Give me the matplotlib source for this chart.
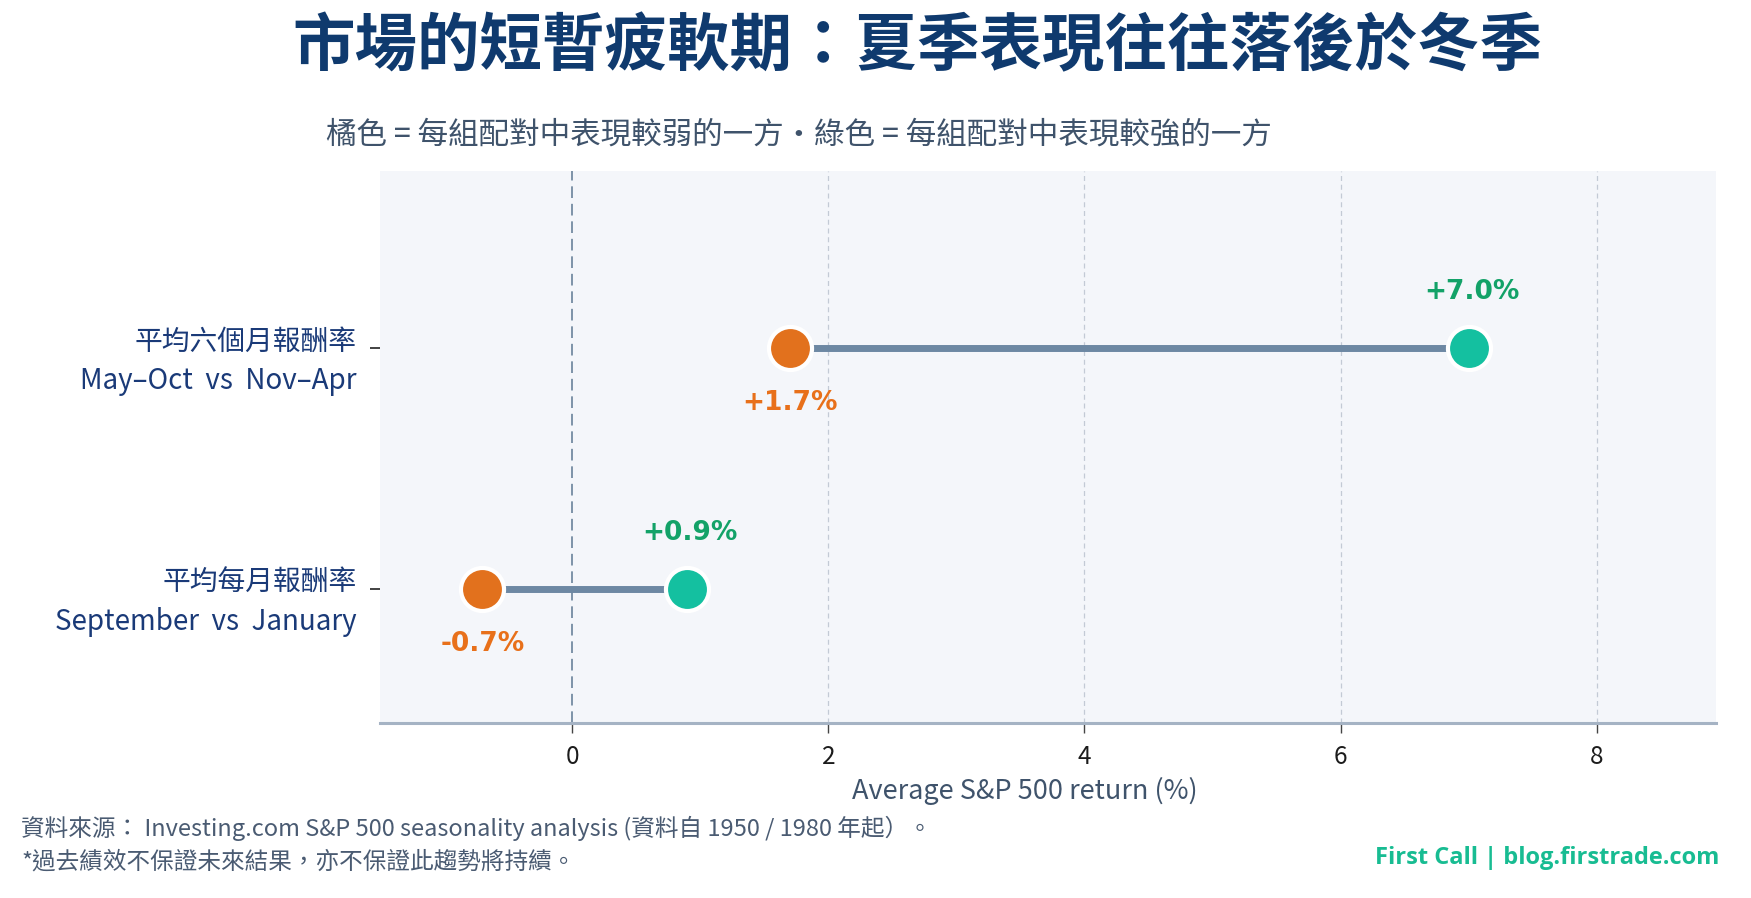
"""
Dumbbell chart: summer vs winter S&P 500 seasonality (Traditional Chinese labels).
"""

import matplotlib
matplotlib.use("Agg")
import matplotlib.pyplot as plt
import matplotlib.transforms as mtransforms

plt.rcParams["font.family"] = ["Noto Sans CJK TC", "DejaVu Sans"]

# ── Data ─────────────────────────────────────────────────────────────────────
CATEGORIES = [
    "平均六個月報酬率\nMay–Oct  vs  Nov–Apr",
    "平均每月報酬率\nSeptember  vs  January",
]
WEAK = [1.7, -0.7]      # orange: weaker side of each pair
STRONG = [7.0, 0.9]     # green: stronger side of each pair
X_TICKS = [0, 2, 4, 6, 8]

TITLE = "市場的短暫疲軟期：夏季表現往往落後於冬季"
SUBTITLE = "橘色 = 每組配對中表現較弱的一方・綠色 = 每組配對中表現較強的一方"
X_LABEL = "Average S&P 500 return (%)"
SOURCE = "資料來源： Investing.com S&P 500 seasonality analysis (資料自 1950 / 1980 年起）。"
DISCLAIMER = "*過去績效不保證未來結果，亦不保證此趨勢將持續。"
BRAND = "First Call | blog.firstrade.com"

# ── Style ────────────────────────────────────────────────────────────────────
NAVY = "#0f3a6e"
LABEL_NAVY = "#1a3a78"
MUTED = "#3f536b"
ORANGE = "#e2711d"
ORANGE_TXT = "#e8701a"
TEAL = "#14c0a0"
GREEN_TXT = "#13a268"
BRAND_GREEN = "#18bc92"
BAR = "#6d88a3"
AX_BG = "#f4f6fa"

fig = plt.figure(figsize=(17.51, 8.98), dpi=100)
fig.patch.set_facecolor("white")
ax = fig.add_axes([0.217, 0.195, 0.763, 0.615])
ax.set_facecolor(AX_BG)

y_pos = list(range(len(CATEGORIES)))[::-1]   # first category on top

for y, lo, hi in zip(y_pos, WEAK, STRONG):
    ax.plot([lo, hi], [y, y], color=BAR, lw=5, solid_capstyle="butt", zorder=2)
    ax.plot(lo, y, "o", ms=31, mfc=ORANGE, mec="white", mew=3, zorder=3)
    ax.plot(hi, y, "o", ms=31, mfc=TEAL, mec="white", mew=3, zorder=3)
    ax.annotate(f"{lo:+.1f}%", (lo, y), xytext=(0, -40), textcoords="offset points",
                ha="center", va="center", fontsize=19, fontweight="bold",
                color=ORANGE_TXT, family="DejaVu Sans", zorder=4)
    ax.annotate(f"{hi:+.1f}%", (hi, y), xytext=(2, 40), textcoords="offset points",
                ha="center", va="center", fontsize=19, fontweight="bold",
                color=GREEN_TXT, family="DejaVu Sans", zorder=4)

# zero reference and light grid
ax.axvline(0, color="#7d93a8", lw=1.4, ls=(0, (6, 3)), zorder=1)
for xt in X_TICKS[1:]:
    ax.axvline(xt, color="#c3cad5", lw=0.9, ls=(0, (4, 3)), zorder=1)

ax.set_xlim(-1.5, 8.93)
ax.set_ylim(-0.556, 1.734)
ax.set_xticks(X_TICKS)
ax.set_xticklabels([str(t) for t in X_TICKS], fontsize=17.5, color="#1c1c1c")
ax.set_yticks(y_pos)
ax.set_yticklabels(CATEGORIES, fontsize=20, color=LABEL_NAVY, linespacing=1.4)
ax.tick_params(axis="x", length=7, width=1, color="#444444", pad=8)
ax.tick_params(axis="y", length=7, width=1.2, color="#222222", pad=10)

shift = mtransforms.ScaledTranslation(0, -4 / 72, fig.dpi_scale_trans)
for lab in ax.get_yticklabels():
    lab.set_transform(lab.get_transform() + shift)
    lab.set_multialignment("right")

for side in ("top", "left", "right"):
    ax.spines[side].set_visible(False)
ax.spines["bottom"].set_color("#a5b3c4")
ax.spines["bottom"].set_linewidth(2.2)

ax.set_xlabel(X_LABEL, fontsize=19.5, color=MUTED, labelpad=5)
ax.xaxis.label.set_x(0.483)

# ── Titles & footer ──────────────────────────────────────────────────────────
fig.text(0.524, 0.948, TITLE, ha="center", va="center", fontsize=45,
         fontweight="heavy", color=NAVY)
fig.text(0.456, 0.850, SUBTITLE, ha="center", va="center", fontsize=22,
         color=MUTED)
fig.text(0.012, 0.078, SOURCE, ha="left", va="center", fontsize=17, color="#4a5b72")
fig.text(0.012, 0.040, DISCLAIMER, ha="left", va="center", fontsize=17, color="#4a5b72")
fig.text(0.982, 0.044, BRAND, ha="right", va="center", fontsize=17,
         fontweight="bold", color=BRAND_GREEN, family=["Open Sans", "DejaVu Sans"])

fig.savefig("out.png", dpi=100, facecolor="white")
